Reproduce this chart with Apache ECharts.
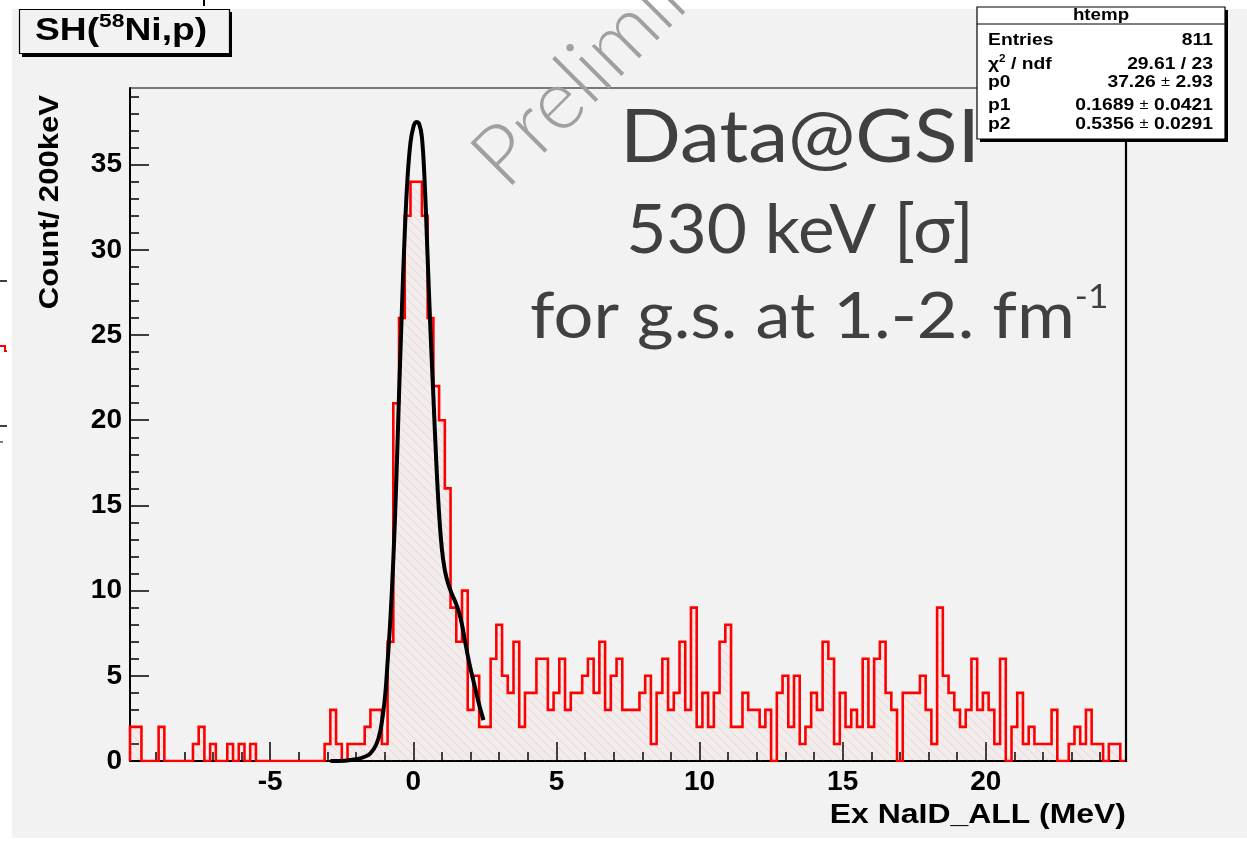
<!DOCTYPE html>
<html>
<head>
<meta charset="utf-8">
<script src="https://cdn.jsdelivr.net/npm/echarts@6.0.0/dist/echarts.min.js"></script>
<style>
html,body{margin:0;padding:0;background:#ffffff;}
#pad{position:absolute;left:12px;top:9px;width:1235px;height:829px;background:#f2f2f2;}
#c{position:absolute;left:0;top:0;width:1247px;height:844px;}
</style>
</head>
<body>
<div id="pad"></div>
<div id="c"></div>
<script>
// ---------------- data ----------------
const binStart = -9.9;   // low edge of first bin (MeV)
const binWidth = 0.2;    // 200 keV bins
// counts per bin, from -9.9 MeV to 24.9 MeV
const counts = [
  2, 2, 0, 0, 0, 2, 0, 0, 0, 0,
  0, 1, 2, 0, 1, 0, 0, 1, 0, 1,
  0, 1, 0, 0, 0, 0, 0, 0, 0, 0,
  0, 0, 0, 0, 1, 3, 1, 0, 1, 1,
  1, 2, 3, 3, 1, 7, 21, 26, 32, 34,
  34, 32, 26, 22, 20, 16, 9, 7, 10, 3,
  5, 2, 2, 6, 8, 5, 4, 7, 2, 4,
  4, 6, 6, 3, 4, 6, 3, 4, 4, 5,
  6, 4, 7, 3, 5, 6, 3, 3, 3, 4,
  5, 1, 4, 6, 3, 4, 7, 3, 9, 2,
  4, 2, 4, 7, 8, 2, 2, 4, 3, 3,
  2, 3, 0, 4, 5, 2, 5, 1, 2, 4,
  3, 7, 6, 1, 4, 2, 3, 2, 6, 2,
  6, 7, 4, 3, 0, 4, 4, 4, 5, 3,
  1, 9, 5, 4, 3, 2, 3, 6, 3, 4,
  3, 1, 6, 0, 2, 4, 1, 2, 1, 1,
  1, 3, 0, 0, 1, 2, 1, 3, 1, 1,
  0, 1, 1, 0
];
// fitted curve
const fitX = [-2.9, -2.4, -2.0, -1.7, -1.5, -1.3, -1.15, -1.0, -0.9, -0.8, -0.7, -0.6, -0.5, -0.4, -0.3, -0.2, -0.1, 0.0, 0.1, 0.2, 0.3, 0.4, 0.5, 0.6, 0.7, 0.8, 0.9, 1.0, 1.1, 1.2, 1.3, 1.4, 1.5, 1.6, 1.7, 1.8, 1.9, 2.0, 2.1, 2.2, 2.3, 2.4, 2.45];
const fitY = [0, 0.02, 0.1, 0.25, 0.45, 0.95, 1.8, 3.6, 5.8, 8.4, 11.8, 16.2, 21.5, 26.5, 31.0, 34.3, 36.3, 37.2, 37.5, 37.4, 36.6, 33.8, 29.5, 25.2, 21.4, 17.6, 14.5, 12.4, 11.2, 10.5, 10.0, 9.6, 9.2, 8.7, 8.0, 7.1, 6.2, 5.4, 4.7, 4.0, 3.3, 2.7, 2.4];
const xRange = [-9.9, 24.9];
const yRange = [0, 39.5];
const xMajorTicks = [-5, 0, 5, 10, 15, 20];
const xMinorTicks = [-9, -8, -7, -6, -5, -4, -3, -2, -1, 0, 1, 2, 3, 4, 5, 6, 7, 8, 9, 10, 11, 12, 13, 14, 15, 16, 17, 18, 19, 20, 21, 22, 23, 24];
const yMajorTicks = [0, 5, 10, 15, 20, 25, 30, 35];
const yMinorTicks = [1, 2, 3, 4, 6, 7, 8, 9, 11, 12, 13, 14, 16, 17, 18, 19, 21, 22, 23, 24, 26, 27, 28, 29, 31, 32, 33, 34, 36, 37, 38, 39];
const statsTitle = 'htemp';
const statsLabels = ['Entries', '{a|\u03c7}{s|2}{a| / ndf}', 'p0', 'p1', 'p2'];
const statsValues = ['{a|811}', '{a|29.61 / 23}', '{a|37.26 }{m|\u00b1}{a| 2.93}', '{a|0.1689 }{m|\u00b1}{a| 0.0421}', '{a|0.5356 }{m|\u00b1}{a| 0.0291}'];
const xTitle = 'Ex NaID_ALL (MeV)';
const yTitle = 'Count/ 200keV';
const noteLines = ['Data@GSI', '530 keV [\u03c3]', '{a|for g.s. at 1.-2. fm}{s|-1}'];

// ---------------- build series data ----------------
const histPts = [];
histPts.push([binStart, 0]);
counts.forEach((v, i) => {
  const lo = binStart + i * binWidth, hi = lo + binWidth;
  histPts.push([lo, v]); histPts.push([hi, v]);
});
histPts.push([binStart + counts.length * binWidth, 0]);
const fitPts = fitX.map((x, i) => [x, fitY[i]]);

function hatch() {
  const s = 9;
  const c = document.createElement('canvas');
  c.width = s; c.height = s;
  const g = c.getContext('2d');
  g.fillStyle = 'rgba(255,120,120,0.035)';
  g.fillRect(0, 0, s, s);
  g.strokeStyle = 'rgba(240,110,110,0.22)';
  g.lineWidth = 1;
  g.beginPath();
  g.moveTo(0, 0); g.lineTo(s, s);
  g.moveTo(-1, s - 1); g.lineTo(1, s + 1);
  g.moveTo(s - 1, -1); g.lineTo(s + 1, 1);
  g.stroke();
  return c;
}

const HEL = '"Liberation Sans", Arial, Helvetica, sans-serif';
const SANS = 'Lato, "Open Sans", sans-serif';
const tickStyle = { color: '#000', width: 1.5 };

function txt(o) {
  const st = o.style;
  if (st.align) st.textAlign = st.align;
  if (st.verticalAlign) st.textVerticalAlign = st.verticalAlign;
  return o;
}

const graphics = [];
// stray marks at the left/top border of the picture
graphics.push({ type: 'line', z: 1, shape: { x1: 0, y1: 281, x2: 7, y2: 281 }, style: { stroke: '#000', lineWidth: 1.5 } });
graphics.push({ type: 'polyline', z: 1, shape: { points: [[0, 346], [5, 346], [5, 351], [7, 351]] }, style: { stroke: '#ff0000', lineWidth: 2, fill: null } });
graphics.push({ type: 'line', z: 1, shape: { x1: 0, y1: 426, x2: 7, y2: 426 }, style: { stroke: '#000', lineWidth: 1.5 } });
graphics.push({ type: 'line', z: 1, shape: { x1: 0, y1: 442, x2: 3, y2: 442 }, style: { stroke: '#000', lineWidth: 1 } });
graphics.push({ type: 'line', z: 1, shape: { x1: 204, y1: 0, x2: 204, y2: 6 }, style: { stroke: '#000', lineWidth: 2 } });
// right frame (thicker)
graphics.push({ type: 'line', z: 10, shape: { x1: 1126, y1: 88, x2: 1126, y2: 762 }, style: { stroke: '#000', lineWidth: 2.2 } });

// title box
graphics.push({ type: 'rect', z: 100, shape: { x: 22, y: 12, width: 210, height: 45 }, style: { fill: '#000' } });
graphics.push({ type: 'rect', z: 101, shape: { x: 19.5, y: 9.5, width: 210, height: 44 }, style: { fill: '#f2f2f2', stroke: '#000', lineWidth: 1.2 } });
graphics.push(txt({ type: 'text', z: 102, x: 35, y: 31, scaleX: 1.2,
  style: { text: '{a|SH(}{s|58}{a|Ni,p)}', align: 'left', verticalAlign: 'middle', fill: '#000',
    rich: { a: { fontSize: 31, fontWeight: 'bold', fontFamily: HEL, lineHeight: 38, fill: '#000' },
            s: { fontSize: 19, fontWeight: 'bold', fontFamily: HEL, lineHeight: 19, verticalAlign: 'top', fill: '#000' } } } }));

// stats box
const sb = { x: 977, y: 7, w: 248, h: 132 };
graphics.push({ type: 'rect', z: 100, shape: { x: sb.x + 3, y: sb.y + 3, width: sb.w, height: sb.h }, style: { fill: '#000' } });
graphics.push({ type: 'rect', z: 101, shape: { x: sb.x, y: sb.y, width: sb.w, height: sb.h }, style: { fill: '#ffffff', stroke: '#000', lineWidth: 1.2 } });
graphics.push({ type: 'line', z: 102, shape: { x1: sb.x, y1: 24, x2: sb.x + sb.w, y2: 24 }, style: { stroke: '#000', lineWidth: 1 } });
graphics.push(txt({ type: 'text', z: 103, x: 1101, y: 16, scaleX: 1.17,
  style: { text: statsTitle, font: 'bold 16px ' + HEL, fill: '#000', align: 'center', verticalAlign: 'middle' } }));
const rowBase = [46, 70, 88, 111, 130];
const statRich = {
  a: { fontSize: 16.5, fontWeight: 'bold', fontFamily: HEL, fill: '#000', lineHeight: 20 },
  s: { fontSize: 10, fontWeight: 'bold', fontFamily: HEL, fill: '#000', lineHeight: 10, verticalAlign: 'top' },
  m: { fontSize: 14, fontWeight: 'normal', fontFamily: HEL, fill: '#000', lineHeight: 20 }
};
statsLabels.forEach((l, i) => {
  const t = l.indexOf('{') === 0 ? l : '{a|' + l + '}';
  graphics.push(txt({ type: 'text', z: 103, x: 988, y: rowBase[i] - 5.7, scaleX: 1.17,
    style: { text: t, rich: statRich, align: 'left', verticalAlign: 'middle' } }));
});
statsValues.forEach((v, i) => {
  graphics.push(txt({ type: 'text', z: 103, x: 1213, y: rowBase[i] - 5.7, scaleX: 1.17,
    style: { text: v, rich: statRich, align: 'right', verticalAlign: 'middle' } }));
});

// note text
graphics.push(txt({ type: 'text', z: 20, x: 800, y: 167 - 0.387 * 73, scaleX: 1.1,
  style: { text: noteLines[0], font: '73px ' + SANS, fill: '#404040', align: 'center', verticalAlign: 'middle' } }));
graphics.push(txt({ type: 'text', z: 20, x: 800, y: 257 - 0.387 * 68, scaleX: 1.02,
  style: { text: noteLines[1], font: '68px ' + SANS, fill: '#404040', align: 'center', verticalAlign: 'middle' } }));
graphics.push(txt({ type: 'text', z: 20, x: 530, y: 345 - 0.387 * 64 - 3, scaleX: 1.1,
  style: { text: noteLines[2], align: 'left', verticalAlign: 'middle',
    rich: { a: { fontSize: 64, fontFamily: SANS, fill: '#404040', lineHeight: 71 },
            s: { fontSize: 32, fontFamily: SANS, fill: '#404040', lineHeight: 32, verticalAlign: 'top' } } } }));

// axis titles
graphics.push(txt({ type: 'text', z: 20, x: 1126, y: 825 - 0.3465 * 28, scaleX: 1.14,
  style: { text: xTitle, font: 'bold 28px ' + HEL, fill: '#000', align: 'right', verticalAlign: 'middle' } }));
graphics.push(txt({ type: 'text', z: 20, x: 50, y: 95, rotation: Math.PI / 2, scaleX: 1.11,
  style: { text: yTitle, font: 'bold 28px ' + HEL, fill: '#000', align: 'right', verticalAlign: 'middle' } }));

// watermark
const wmFs = 84, wmRot = Math.PI / 4;
graphics.push(txt({ type: 'text', z: 120, x: 510 - Math.sin(wmRot) * 0.387 * wmFs, y: 195 - Math.cos(wmRot) * 0.387 * wmFs, rotation: wmRot,
  style: { text: 'Preliminary', font: '300 ' + wmFs + 'px ' + SANS, fill: '#a0a0a0', align: 'left', verticalAlign: 'middle' } }));

const chart = echarts.init(document.getElementById('c'), null, { renderer: 'canvas' });
chart.setOption({
  backgroundColor: 'transparent',
  animation: false,
  grid: { left: 130, top: 88, right: 121, bottom: 83, show: true, borderColor: '#000', borderWidth: 1, backgroundColor: 'transparent' },
  xAxis: [
    { type: 'value', min: xRange[0], max: xRange[1], position: 'bottom',
      axisLine: { show: true, onZero: false, lineStyle: { color: '#000', width: 2 } },
      axisTick: { show: true, inside: true, length: 19, customValues: xMajorTicks, lineStyle: tickStyle },
      axisLabel: { show: true, customValues: xMajorTicks, margin: 7, color: '#000', fontSize: 28, fontWeight: 'bold', fontFamily: HEL },
      splitLine: { show: false } },
    { type: 'value', min: xRange[0], max: xRange[1], position: 'bottom',
      axisLine: { show: false, onZero: false },
      axisTick: { show: true, inside: true, length: 9, customValues: xMinorTicks, lineStyle: tickStyle },
      axisLabel: { show: false }, splitLine: { show: false } }
  ],
  yAxis: [
    { type: 'value', min: yRange[0], max: yRange[1], position: 'left',
      axisLine: { show: true, onZero: false, lineStyle: { color: '#000', width: 2 } },
      axisTick: { show: true, inside: true, length: 19, customValues: yMajorTicks, lineStyle: tickStyle },
      axisLabel: { show: true, customValues: yMajorTicks, margin: 8, color: '#000', fontSize: 28, fontWeight: 'bold', fontFamily: HEL },
      splitLine: { show: false } },
    { type: 'value', min: yRange[0], max: yRange[1], position: 'left',
      axisLine: { show: false, onZero: false },
      axisTick: { show: true, inside: true, length: 9, customValues: yMinorTicks, lineStyle: tickStyle },
      axisLabel: { show: false }, splitLine: { show: false } }
  ],
  series: [
    { type: 'line', name: 'htemp', xAxisIndex: 0, yAxisIndex: 0, data: histPts, symbol: 'none', z: 3,
      lineStyle: { color: '#ff0000', width: 2.6, join: 'miter' },
      areaStyle: { color: { image: hatch(), repeat: 'repeat' }, opacity: 1 } },
    { type: 'line', name: 'fit', xAxisIndex: 0, yAxisIndex: 0, data: fitPts, symbol: 'none', smooth: 0.4, z: 4,
      lineStyle: { color: '#000', width: 4 } }
  ],
  graphic: { elements: graphics }
});
</script>
</body>
</html>
